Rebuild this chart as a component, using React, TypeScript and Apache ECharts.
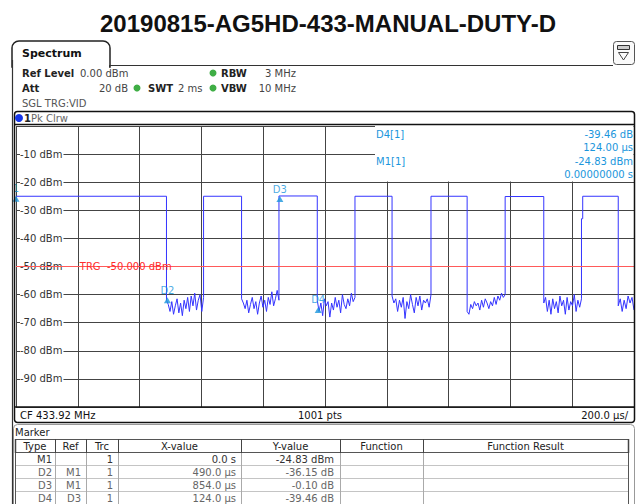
import React, { useEffect, useRef } from 'react';
import * as echarts from 'echarts';

const TITLE = '20190815-AG5HD-433-MANUAL-DUTY-D';
const SPAN_US = 2000;
const DIV_US = 200;
const Y_MIN = -100;
const Y_MAX = 0;
const Y_STEP = 10;
const TRIGGER_DBM = -50;

// pulse train (µs / dBm)
const pulseRiseUs = [0, 607, 851, 1097, 1343, 1583, 1830];
const pulseFallUs = [487, 730, 975, 1217, 1460, 1708, 1949];
const pulseTopDbm = [-25.0, -25.0, -24.9, -25.0, -25.0, -25.1, -25.0];
const riseShoulderDbm: (number | null)[] = [null, null, null, null, null, null, -33];

// noise floor between pulses (dBm)
const noiseGap1 = [-62, -63.5, -66, -62.5, -67, -64, -61.5, -66.5, -63, -67.5, -62, -65, -61, -66, -60.5, -64, -59.5, -65.5, -62, -60, -66, -61];
const noiseGap2 = [-61.5, -63, -65, -62, -66.5, -63.5, -61, -65, -62.5, -67, -63, -60.5, -64.5, -62, -66, -61, -63.5, -59, -64, -61.5, -58.5, -62];
const noiseGap3 = [-62, -66, -63, -67.5, -61.5, -64, -62.5, -68, -63, -65.5, -61, -64.5, -62, -66.5, -60, -63.5, -65, -61.5, -64, -59.5, -62.5, -61];
const noiseGap4 = [-60.5, -63, -61.5, -66, -62, -64.5, -61, -68.5, -62.5, -65, -60, -63.5, -66.5, -61, -64, -60.5, -65.5, -62, -63, -61.5, -64.5, -60];
const noiseGap5 = [-66, -67, -63.5, -65, -62.5, -64, -63, -65.5, -62, -64.5, -61.5, -63, -65, -62.5, -64, -61, -63.5, -60.5, -62, -59.5, -61, -60];
const noiseGap6 = [-63, -61, -66, -62, -67, -61.5, -65, -62.5, -66.5, -60.5, -64, -62, -67, -61, -65.5, -62.5, -64, -60, -66, -62, -64.5, -61.5];
const noiseGap7 = [-64, -61.5, -66, -62, -65, -60.5, -63, -61, -65.5];
const gapNoise = [noiseGap1, noiseGap2, noiseGap3, noiseGap4, noiseGap5, noiseGap6, noiseGap7];

// markers
const markerNames = ['M1', 'D2', 'D3', 'D4'];
const markerRefs = ['', 'M1', 'M1', 'D3'];
const markerTrc = ['1', '1', '1', '1'];
const markerXUs = [0, 490, 854, 124];
const markerYDb = [-24.83, -36.15, -0.1, -39.46];
const markerXText = ['0.0 s', '490.0 µs', '854.0 µs', '124.0 µs'];
const markerYText = ['-24.83 dBm', '-36.15 dB', '-0.10 dB', '-39.46 dB'];
const markerPlotLabels = ['1', 'D2', 'D3', 'D4'];

const tableHeaders = ['Type', 'Ref', 'Trc', 'X-value', 'Y-value', 'Function', 'Function Result'];
const infoLabels = ['D4[1]', 'M1[1]'];
const infoValues = [['-39.46 dB', '124.00 µs'], ['-24.83 dBm', '0.00000000 s']];

const FONT = 'DejaVu Sans';
const MK = '#1a96dc';

const G = { left: 16, top: 126, width: 618, height: 281 };

function buildTrace(): number[][] {
  const pts: number[][] = [];
  for (let i = 0; i < pulseRiseUs.length; i++) {
    const rise = pulseRiseUs[i];
    const top = pulseTopDbm[i];
    const sh = riseShoulderDbm[i];
    if (sh != null) {
      pts.push([rise, sh]);
      pts.push([rise + 4, sh]);
      pts.push([rise + 4, top]);
    } else {
      pts.push([rise, top]);
    }
    const fall = pulseFallUs[i];
    pts.push([fall, top]);
    const gap = gapNoise[i];
    const gapEnd = i + 1 < pulseRiseUs.length ? pulseRiseUs[i + 1] : SPAN_US;
    for (let j = 0; j < gap.length; j++) {
      pts.push([fall + ((gapEnd - fall) * j) / (gap.length - 1), gap[j]]);
    }
  }
  return pts;
}

function markerPoints() {
  const ax: number[] = [];
  const ay: number[] = [];
  markerNames.forEach((n, i) => {
    const r = markerNames.indexOf(markerRefs[i]);
    if (r < 0) {
      ax.push(markerXUs[i]);
      ay.push(markerYDb[i]);
    } else {
      ax.push(ax[r] + markerXUs[i]);
      ay.push(ay[r] + markerYDb[i]);
    }
  });
  return ax.map((x, i) => ({ value: [x, ay[i]], name: markerPlotLabels[i] }));
}

function t(x: number, y: number, text: string, o: any = {}) {
  return {
    type: 'text',
    z: 100,
    style: {
      x,
      y,
      text,
      fill: o.fill || '#333',
      font: `${o.bold ? 'bold ' : ''}${o.size || 10}px "${o.family || FONT}"`,
      textAlign: o.align || 'left',
      textVerticalAlign: 'middle',
    },
  };
}
function ln(x1: number, y1: number, x2: number, y2: number, stroke = '#222', w = 1) {
  return { type: 'line', z: 100, shape: { x1, y1, x2, y2 }, style: { stroke, lineWidth: w } };
}

function buildGraphic() {
  const g: any[] = [];
  // frame + tab
  g.push({ type: 'rect', z: 99, shape: { x: 12, y: 41, width: 98, height: 26, r: [7, 7, 0, 0] }, style: { fill: '#fff', stroke: '#222', lineWidth: 1.5 } });
  g.push(ln(109, 65.5, 613, 65.5, '#333', 1.2));
  g.push({ type: 'rect', z: 100, shape: { x: 13, y: 66, width: 96, height: 3 }, style: { fill: '#fff' } });
  g.push(ln(12.5, 60, 12.5, 504, '#333', 1.2));
  g.push(t(22, 53, 'Spectrum', { bold: true, size: 11, fill: '#111' }));
  // icon
  g.push({ type: 'rect', z: 100, shape: { x: 613.5, y: 41.5, width: 21, height: 23, r: 3 }, style: { fill: '#fafafa', stroke: '#555', lineWidth: 1 } });
  g.push({ type: 'rect', z: 100, shape: { x: 617.5, y: 45.5, width: 12, height: 4 }, style: { fill: '#ccc', stroke: '#333', lineWidth: 1 } });
  g.push({ type: 'polygon', z: 100, shape: { points: [[618.5, 52.5], [628.5, 52.5], [623.5, 60]] }, style: { fill: 'none', stroke: '#444', lineWidth: 1 } });
  // settings
  g.push(t(22, 73, 'Ref Level', { bold: true, fill: '#222' }));
  g.push(t(80, 73, '0.00 dBm', { fill: '#444' }));
  g.push(t(22, 88, 'Att', { bold: true, fill: '#222' }));
  g.push(t(128, 88, '20 dB', { fill: '#444', align: 'right' }));
  g.push(t(148, 88, 'SWT', { bold: true, fill: '#222' }));
  g.push(t(178, 88, '2 ms', { fill: '#444' }));
  g.push(t(221, 73, 'RBW', { bold: true, fill: '#222' }));
  g.push(t(296, 73, '3 MHz', { fill: '#444', align: 'right' }));
  g.push(t(221, 88, 'VBW', { bold: true, fill: '#222' }));
  g.push(t(296, 88, '10 MHz', { fill: '#444', align: 'right' }));
  g.push(t(22, 103, 'SGL TRG:VID', { fill: '#555' }));
  [[213, 73], [137, 88], [213, 88]].forEach(([cx, cy]) =>
    g.push({ type: 'circle', z: 100, shape: { cx, cy, r: 3.5 }, style: { fill: '#3fae45' } })
  );
  // plot frame
  g.push({ type: 'rect', z: 100, shape: { x: 14.5, y: 111.5, width: 620, height: 311, r: [3, 3, 3, 3] }, style: { fill: 'none', stroke: '#111', lineWidth: 1.5 } });
  g.push(ln(14.5, 124.5, 634.5, 124.5, '#111', 1.5));
  g.push(ln(14.5, 407, 634.5, 407, '#111', 1.5));
  g.push({ type: 'circle', z: 100, shape: { cx: 19, cy: 118, r: 4 }, style: { fill: '#1535e8' } });
  g.push({
    type: 'text', z: 100,
    style: {
      x: 24, y: 118, text: '{a|1}{b|Pk Clrw}', textVerticalAlign: 'middle',
      rich: { a: { fontFamily: FONT, fontSize: 10, fontWeight: 'bold', fill: '#222' }, b: { fontFamily: FONT, fontSize: 10, fill: '#666' } },
    },
  });
  // marker info box
  g.push({ type: 'rect', z: 99, shape: { x: 375, y: 125.5, width: 258.5, height: 56 }, style: { fill: '#fff' } });
  infoLabels.forEach((lab, i) => {
    const y0 = 134 + i * 27;
    g.push(t(376, y0, lab, { fill: MK }));
    g.push(t(633, y0, infoValues[i][0], { fill: MK, align: 'right' }));
    g.push(t(633, y0 + 13, infoValues[i][1], { fill: MK, align: 'right' }));
  });
  // TRG label
  const trgX = G.left + (G.width * DIV_US) / SPAN_US + 2;
  const trgY = G.top + (G.height * (Y_MAX - TRIGGER_DBM)) / (Y_MAX - Y_MIN);
  g.push(t(trgX, trgY, 'TRG  -50.000 dBm', { fill: '#ff2a2a' }));
  // bottom bar
  g.push(t(20, 415, 'CF 433.92 MHz', { fill: '#111' }));
  g.push(t(320, 415, '1001 pts', { fill: '#111', align: 'center' }));
  g.push(t(628, 415, '200.0 µs/', { fill: '#111', align: 'right' }));
  // marker panel
  g.push({ type: 'rect', z: 99, shape: { x: 13.5, y: 424.5, width: 621, height: 100, r: [4, 4, 0, 0] }, style: { fill: '#fff', stroke: '#999', lineWidth: 1 } });
  g.push(t(15, 432, 'Marker', { fill: '#222' }));
  const cols = [15, 55, 86, 118, 241, 340, 423, 628];
  g.push(ln(15, 439.5, 628, 439.5, '#555', 1));
  g.push(ln(15, 452.5, 628, 452.5, '#555', 1));
  [465.5, 478.5, 491.5].forEach((y) => g.push(ln(15, y, 628, y, '#c4c4c4', 1)));
  cols.forEach((x, i) => {
    const edge = i === 0 || i === cols.length - 1;
    g.push(ln(x + 0.5, 439, x + 0.5, 453, '#444', edge ? 1.5 : 1));
    g.push(ln(x + 0.5, 453, x + 0.5, 504, edge ? '#555' : '#aaa', 1));
  });
  tableHeaders.forEach((h, i) => {
    g.push(t((cols[i] + cols[i + 1]) / 2, 446, h, { fill: '#222', align: 'center' }));
  });
  markerNames.forEach((n, i) => {
    const y = 459 + i * 13;
    const c = i === 0 ? '#333' : '#666';
    g.push(t(52, y, n, { fill: c, align: 'right' }));
    if (markerRefs[i]) g.push(t(81, y, markerRefs[i], { fill: c, align: 'right' }));
    g.push(t(113, y, markerTrc[i], { fill: c, align: 'right' }));
    g.push(t(236, y, markerXText[i], { fill: c, align: 'right' }));
    g.push(t(334, y, markerYText[i], { fill: c, align: 'right' }));
  });
  return g;
}

export default function App() {
  const ref = useRef<HTMLDivElement>(null);
  useEffect(() => {
    if (!ref.current) return;
    const chart = echarts.init(ref.current, undefined, { renderer: 'svg' });
    chart.setOption({
      animation: false,
      backgroundColor: '#fff',
      title: {
        text: TITLE,
        left: 95,
        top: 6,
        textStyle: { fontFamily: 'Liberation Sans', fontWeight: 'bold', fontSize: 24, color: '#111' },
      },
      grid: { left: G.left, top: G.top, width: G.width, height: G.height, containLabel: false },
      xAxis: {
        type: 'value', min: 0, max: SPAN_US, interval: DIV_US,
        axisLabel: { show: false }, axisLine: { show: false }, axisTick: { show: false },
        splitLine: { lineStyle: { color: '#444', width: 1 } },
      },
      yAxis: {
        type: 'value', min: Y_MIN, max: Y_MAX, interval: Y_STEP,
        axisLine: { show: false }, axisTick: { show: false },
        axisLabel: {
          inside: true, margin: 4, color: '#333', fontFamily: FONT, fontSize: 10,
          backgroundColor: '#fff', padding: [0, 1, 0, 0],
          formatter: (v: number) => (v === Y_MIN || v === Y_MAX ? '' : `${v} dBm`),
        },
        splitLine: { lineStyle: { color: '#444', width: 1 } },
      },
      series: [
        {
          type: 'line', name: 'Trace 1', data: buildTrace(), showSymbol: false,
          lineStyle: { color: '#3434ff', width: 1 }, z: 3,
          markLine: {
            silent: true, symbol: 'none', animation: false,
            data: [{ yAxis: TRIGGER_DBM }],
            lineStyle: { color: '#ff5a5a', width: 1, type: 'solid' },
            label: { show: false },
          },
        },
        {
          type: 'scatter', name: 'Markers', data: markerPoints(), symbol: 'triangle', symbolSize: [7, 6],
          symbolOffset: [0, 3], itemStyle: { color: MK }, z: 4,
          label: { show: true, position: 'top', distance: 2, formatter: '{b}', color: MK, fontFamily: FONT, fontSize: 10 },
        },
      ],
      graphic: { elements: buildGraphic() },
    });
    return () => chart.dispose();
  }, []);
  return <div ref={ref} style={{ position: 'fixed', left: 0, top: 0, width: 636, height: 504, background: '#fff' }} />;
}
